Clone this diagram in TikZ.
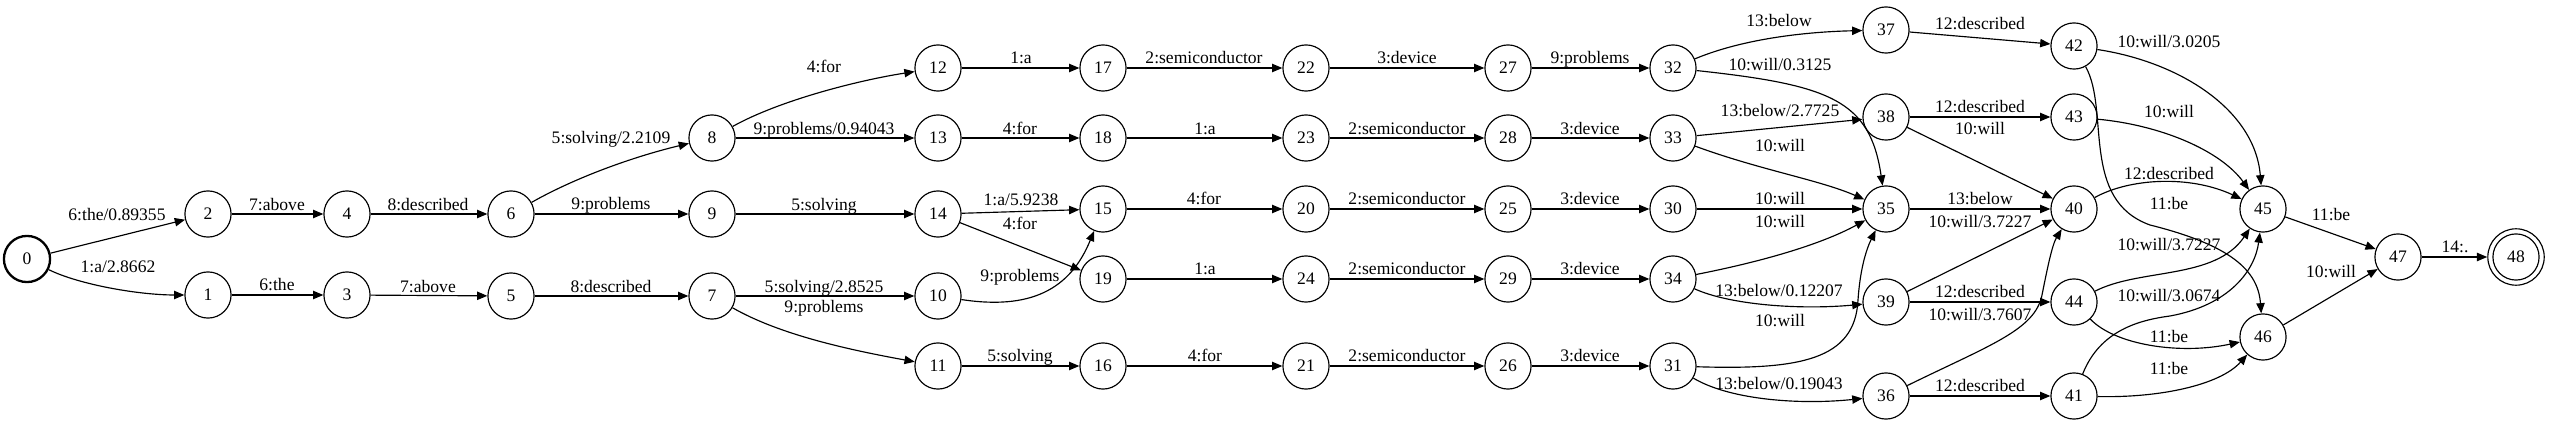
\documentclass[tikz,border=0pt]{standalone}
\usepackage{fontspec}
\setmainfont{Liberation Serif}
\usetikzlibrary{arrows.meta}
\tikzset{
	st/.style={circle,draw,line width=0.9pt,minimum size=36pt,inner sep=0pt},
	lbl/.style={anchor=base,inner sep=0pt},
	arr/.style={line width=0.9pt,-{Triangle[length=8pt,width=6.5pt]}},
}
\begin{document}
\begin{tikzpicture}[x=0.78pt,y=-0.78pt,font=\fontsize{13.7}{16}\selectfont]
	\useasboundingbox (0,0) rectangle (2550,424);
	% states
	\node[st,line width=1.8pt] (n0) at (27,259) {0};
	\node[st] (n1) at (208,295) {1};
	\node[st] (n2) at (208,214) {2};
	\node[st] (n3) at (347,295) {3};
	\node[st] (n4) at (347,214) {4};
	\node[st] (n5) at (511,296) {5};
	\node[st] (n6) at (511,214) {6};
	\node[st] (n7) at (712,296) {7};
	\node[st] (n8) at (712,138) {8};
	\node[st] (n9) at (712,214) {9};
	\node[st] (n10) at (938,296) {10};
	\node[st] (n11) at (938,366) {11};
	\node[st] (n12) at (938,68) {12};
	\node[st] (n13) at (938,138) {13};
	\node[st] (n14) at (938,214) {14};
	\node[st] (n15) at (1103,209) {15};
	\node[st] (n16) at (1103,366) {16};
	\node[st] (n17) at (1103,68) {17};
	\node[st] (n18) at (1103,138) {18};
	\node[st] (n19) at (1103,279) {19};
	\node[st] (n20) at (1306,209) {20};
	\node[st] (n21) at (1306,366) {21};
	\node[st] (n22) at (1306,68) {22};
	\node[st] (n23) at (1306,138) {23};
	\node[st] (n24) at (1306,279) {24};
	\node[st] (n25) at (1508,209) {25};
	\node[st] (n26) at (1508,366) {26};
	\node[st] (n27) at (1508,68) {27};
	\node[st] (n28) at (1508,138) {28};
	\node[st] (n29) at (1508,279) {29};
	\node[st] (n30) at (1673,209) {30};
	\node[st] (n31) at (1673,366) {31};
	\node[st] (n32) at (1673,68) {32};
	\node[st] (n33) at (1673,138) {33};
	\node[st] (n34) at (1673,279) {34};
	\node[st] (n35) at (1886,209) {35};
	\node[st] (n36) at (1886,396) {36};
	\node[st] (n37) at (1886,30) {37};
	\node[st] (n38) at (1886,117) {38};
	\node[st] (n39) at (1886,302) {39};
	\node[st] (n40) at (2074,209) {40};
	\node[st] (n41) at (2074,396) {41};
	\node[st] (n42) at (2074,46) {42};
	\node[st] (n43) at (2074,117) {43};
	\node[st] (n44) at (2074,302) {44};
	\node[st] (n45) at (2263,209) {45};
	\node[st] (n46) at (2263,337) {46};
	\node[st] (n47) at (2398,257) {47};
	\node[st,minimum size=44pt] (n48) at (2516,257) {48};
	\draw[line width=0.9pt] (n48.center) circle (18pt);
	% arcs
	\draw[arr] (n0) -- (n2) node[lbl] at (117,221) {6:the/0.89355};
	\draw[arr] (n0) .. controls (80,285) and (140,295) .. (n1) node[lbl] at (118,273) {1:a/2.8662};
	\draw[arr] (n2) -- (n4) node[lbl] at (277,211) {7:above};
	\draw[arr] (n1) -- (n3) node[lbl] at (277,291) {6:the};
	\draw[arr] (n4) -- (n6) node[lbl] at (428,211) {8:described};
	\draw[arr] (n3) -- (n5) node[lbl] at (428,293) {7:above};
	\draw[arr] (n6) .. controls (580,175) and (640,155) .. (n8) node[lbl] at (611,144) {5:solving/2.2109};
	\draw[arr] (n6) -- (n9) node[lbl] at (611,210) {9:problems};
	\draw[arr] (n5) -- (n7) node[lbl] at (611,293) {8:described};
	\draw[arr] (n8) .. controls (780,100) and (860,80) .. (n12) node[lbl] at (824,73) {4:for};
	\draw[arr] (n8) -- (n13) node[lbl] at (824,135) {9:problems/0.94043};
	\draw[arr] (n9) -- (n14) node[lbl] at (824,211) {5:solving};
	\draw[arr] (n7) -- (n10) node[lbl] at (824,293) {5:solving/2.8525};
	\draw[arr] (n7) .. controls (780,335) and (850,350) .. (n11) node[lbl] at (824,313) {9:problems};
	\draw[arr] (n12) -- (n17) node[lbl] at (1021,64) {1:a};
	\draw[arr] (n13) -- (n18) node[lbl] at (1020,135) {4:for};
	\draw[arr] (n14) -- (n15) node[lbl] at (1021,206) {1:a/5.9238};
	\draw[arr] (n14) -- (n19) node[lbl] at (1020,230) {4:for};
	\draw[arr] (n10) .. controls (1030,310) and (1070,290) .. (n15) node[lbl] at (1020,282) {9:problems};
	\draw[arr] (n11) -- (n16) node[lbl] at (1020,362) {5:solving};
	\draw[arr] (n17) -- (n22) node[lbl] at (1204,64) {2:semiconductor};
	\draw[arr] (n18) -- (n23) node[lbl] at (1205,135) {1:a};
	\draw[arr] (n15) -- (n20) node[lbl] at (1204,205) {4:for};
	\draw[arr] (n19) -- (n24) node[lbl] at (1205,275) {1:a};
	\draw[arr] (n16) -- (n21) node[lbl] at (1205,362) {4:for};
	\draw[arr] (n22) -- (n27) node[lbl] at (1407,64) {3:device};
	\draw[arr] (n23) -- (n28) node[lbl] at (1407,135) {2:semiconductor};
	\draw[arr] (n20) -- (n25) node[lbl] at (1407,205) {2:semiconductor};
	\draw[arr] (n24) -- (n29) node[lbl] at (1407,275) {2:semiconductor};
	\draw[arr] (n21) -- (n26) node[lbl] at (1407,362) {2:semiconductor};
	\draw[arr] (n27) -- (n32) node[lbl] at (1590,64) {9:problems};
	\draw[arr] (n28) -- (n33) node[lbl] at (1590,135) {3:device};
	\draw[arr] (n25) -- (n30) node[lbl] at (1590,205) {3:device};
	\draw[arr] (n29) -- (n34) node[lbl] at (1590,275) {3:device};
	\draw[arr] (n26) -- (n31) node[lbl] at (1590,362) {3:device};
	\draw[arr] (n32) .. controls (1740,40) and (1800,32) .. (n37) node[lbl] at (1779,27) {13:below};
	\draw[arr] (n32) .. controls (1830,85) and (1870,100) .. (n35) node[lbl] at (1780,71) {10:will/0.3125};
	\draw[arr] (n33) -- (n38) node[lbl] at (1780,117) {13:below/2.7725};
	\draw[arr] (n33) .. controls (1760,170) and (1820,180) .. (n35) node[lbl] at (1780,152) {10:will};
	\draw[arr] (n30) -- (n35) node[lbl] at (1780,205) {10:will};
	\draw[arr] (n34) .. controls (1760,262) and (1820,245) .. (n35) node[lbl] at (1780,228) {10:will};
	\draw[arr] (n34) .. controls (1730,305) and (1800,310) .. (n39) node[lbl] at (1779,297) {13:below/0.12207};
	\draw[arr] (n31) .. controls (1800,370) and (1855,360) .. (1858,300) .. controls (1860,270) and (1866,250) .. (n35) node[lbl] at (1780,327) {10:will};
	\draw[arr] (n31) .. controls (1730,400) and (1800,405) .. (n36) node[lbl] at (1779,390) {13:below/0.19043};
	\draw[arr] (n37) -- (n42) node[lbl] at (1980,30) {12:described};
	\draw[arr] (n38) -- (n43) node[lbl] at (1980,113) {12:described};
	\draw[arr] (n38) -- (n40) node[lbl] at (1980,135) {10:will};
	\draw[arr] (n35) -- (n40) node[lbl] at (1980,205) {13:below};
	\draw[arr] (n39) -- (n40) node[lbl] at (1980,228) {10:will/3.7227};
	\draw[arr] (n39) -- (n44) node[lbl] at (1980,298) {12:described};
	\draw[arr] (n36) .. controls (1990,345) and (2035,330) .. (2042,295) .. controls (2047,270) and (2052,245) .. (n40) node[lbl] at (1980,321) {10:will/3.7607};
	\draw[arr] (n36) -- (n41) node[lbl] at (1980,392) {12:described};
	\draw[arr] (n42) .. controls (2180,62) and (2255,110) .. (n45) node[lbl] at (2169,48) {10:will/3.0205};
	\draw[arr] (n42) .. controls (2110,110) and (2080,200) .. (2150,225) .. controls (2230,245) and (2258,270) .. (n46) node[lbl] at (2169,210) {11:be};
	\draw[arr] (n43) .. controls (2160,125) and (2220,150) .. (n45) node[lbl] at (2169,118) {10:will};
	\draw[arr] (n40) .. controls (2130,178) and (2190,175) .. (n45) node[lbl] at (2169,180) {12:described};
	\draw[arr] (n44) .. controls (2140,268) and (2215,280) .. (n45) node[lbl] at (2169,251) {10:will/3.7227};
	\draw[arr] (n41) .. controls (2100,330) and (2140,320) .. (2170,316) .. controls (2230,305) and (2255,270) .. (n45) node[lbl] at (2169,302) {10:will/3.0674};
	\draw[arr] (n44) .. controls (2115,345) and (2180,355) .. (n46) node[lbl] at (2169,343) {11:be};
	\draw[arr] (n41) .. controls (2160,398) and (2220,385) .. (n46) node[lbl] at (2169,375) {11:be};
	\draw[arr] (n45) -- (n47) node[lbl] at (2331,221) {11:be};
	\draw[arr] (n46) -- (n47) node[lbl] at (2331,278) {10:will};
	\draw[arr] (n47) -- (n48) node[lbl] at (2455,253) {14:.};
\end{tikzpicture}
\end{document}
